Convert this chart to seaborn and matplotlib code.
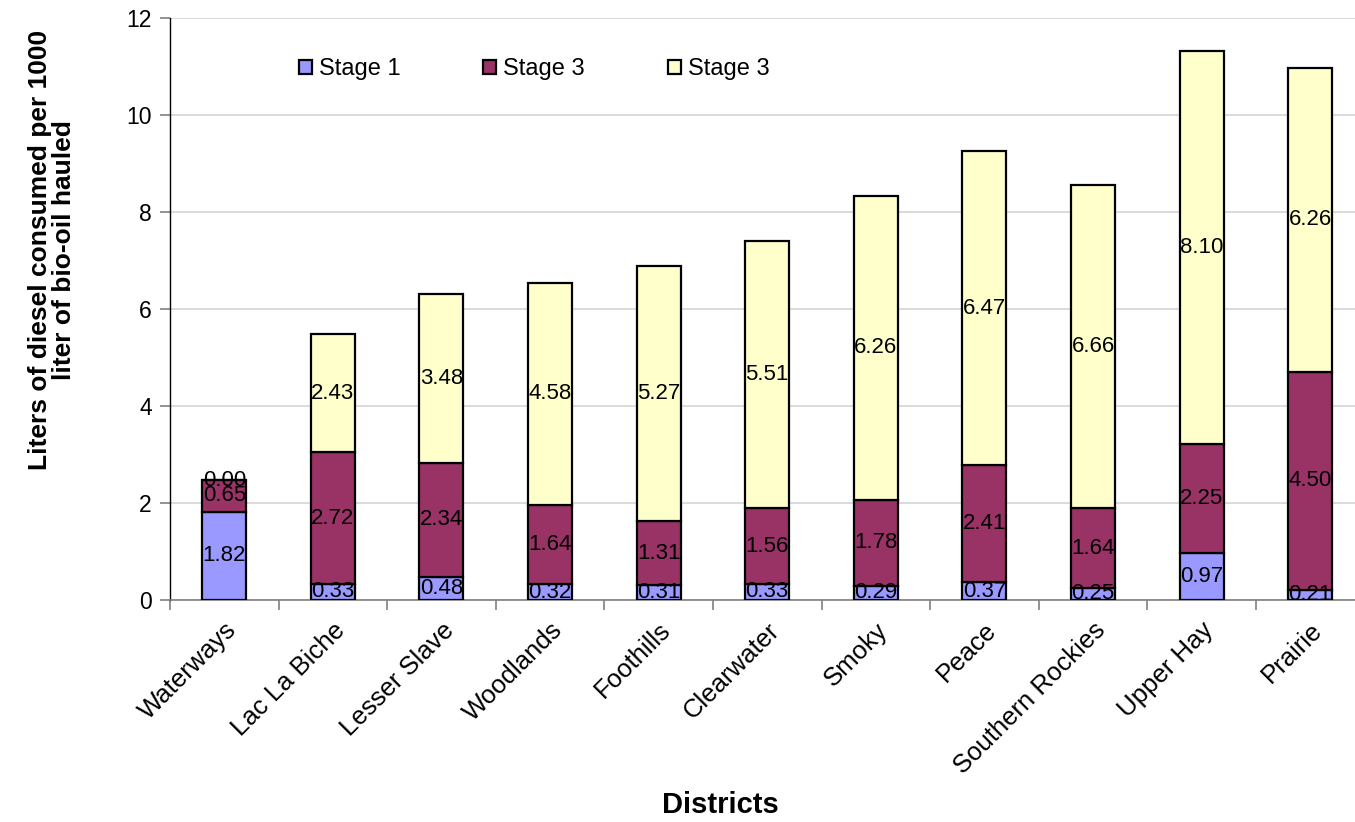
import matplotlib
matplotlib.use("Agg")
import matplotlib.pyplot as plt
import numpy as np
import seaborn as sns
from matplotlib.patches import Patch

districts = ["Waterways", "Lac La Biche", "Lesser Slave", "Woodlands", "Foothills",
             "Clearwater", "Smoky", "Peace", "Southern Rockies", "Upper Hay", "Prairie"]
stage1 = [1.82, 0.33, 0.48, 0.32, 0.31, 0.33, 0.29, 0.37, 0.25, 0.97, 0.21]
stage2 = [0.65, 2.72, 2.34, 1.64, 1.31, 1.56, 1.78, 2.41, 1.64, 2.25, 4.50]
stage3 = [0.00, 2.43, 3.48, 4.58, 5.27, 5.51, 6.26, 6.47, 6.66, 8.10, 6.26]

series_names = ["Stage 1", "Stage 3", "Stage 3"]
colors = ["#9999FF", "#993366", "#FFFFCC"]

sns.set_theme(style="white")
plt.rcParams["font.family"] = ["Liberation Sans", "DejaVu Sans"]
plt.rcParams["text.color"] = "black"
plt.rcParams["xtick.color"] = "black"
plt.rcParams["ytick.color"] = "black"

fig = plt.figure(figsize=(13.55, 8.22), dpi=100)
ax = fig.add_axes([170 / 1355, 1 - 600 / 822, 1194.5 / 1355, 582 / 822])

# stacked bars: each stage sits on top of the running total
bottom = np.zeros(len(districts))
for vals, col in zip([stage1, stage2, stage3], colors):
    sns.barplot(x=districts, y=vals, bottom=bottom.copy(), color=col, saturation=1,
                width=0.405, edgecolor="black", linewidth=1.6, ax=ax, zorder=3)
    bottom += np.array(vals)

for cont in ax.containers:
    ax.bar_label(cont, fmt="%.2f", label_type="center", fontsize=16, color="black", zorder=5)

ax.set_ylim(0, 12)
ax.set_xlim(-0.5, len(districts) - 0.5)
ax.set_yticks(np.arange(0, 13, 2))
ax.yaxis.grid(True, color="#d4d4d4", linewidth=1.2, zorder=0)
ax.set_axisbelow(True)

ax.set_xticks(np.arange(len(districts)))
ax.set_xticklabels(districts, rotation=45, ha="right", va="top", rotation_mode="anchor")
ax.set_xticks(np.arange(len(districts) + 1) - 0.5, minor=True)
ax.tick_params(axis="x", which="major", length=0, labelsize=18.5, pad=13, labelcolor="black")
ax.tick_params(axis="x", which="minor", length=7, width=1.2, color="#808080", direction="out", bottom=True)
ax.tick_params(axis="y", length=7, width=1.2, color="#808080", direction="out", labelsize=16.5,
               left=True, pad=6, labelcolor="black")

for s in ["top", "right"]:
    ax.spines[s].set_visible(False)
ax.spines["left"].set_color("black")
ax.spines["left"].set_linewidth(1.0)
ax.spines["bottom"].set_color("#808080")
ax.spines["bottom"].set_linewidth(1.2)
ax.set_xlabel("")
ax.set_ylabel("")

handles = [Patch(facecolor=c, edgecolor="black", linewidth=1.6) for c in colors]
fig.legend(handles, series_names, loc="center left",
           bbox_to_anchor=(299 / 1355, 1 - 69 / 822), bbox_transform=fig.transFigure,
           ncol=3, frameon=False, fontsize=17, handlelength=0.55, handleheight=0.55,
           handletextpad=0.3, columnspacing=3.5, borderpad=0, borderaxespad=0)

fig.text(52 / 1355, 1 - 250 / 822, "Liters of diesel consumed per 1000\nliter of bio-oil hauled",
         rotation=90, ha="center", va="center", fontsize=19, fontweight="bold",
         multialignment="center", linespacing=0.95)
fig.text(720 / 1355, 1 - 805 / 822, "Districts", ha="center", va="center",
         fontsize=21, fontweight="bold")

fig.savefig("out.png", dpi=100)
